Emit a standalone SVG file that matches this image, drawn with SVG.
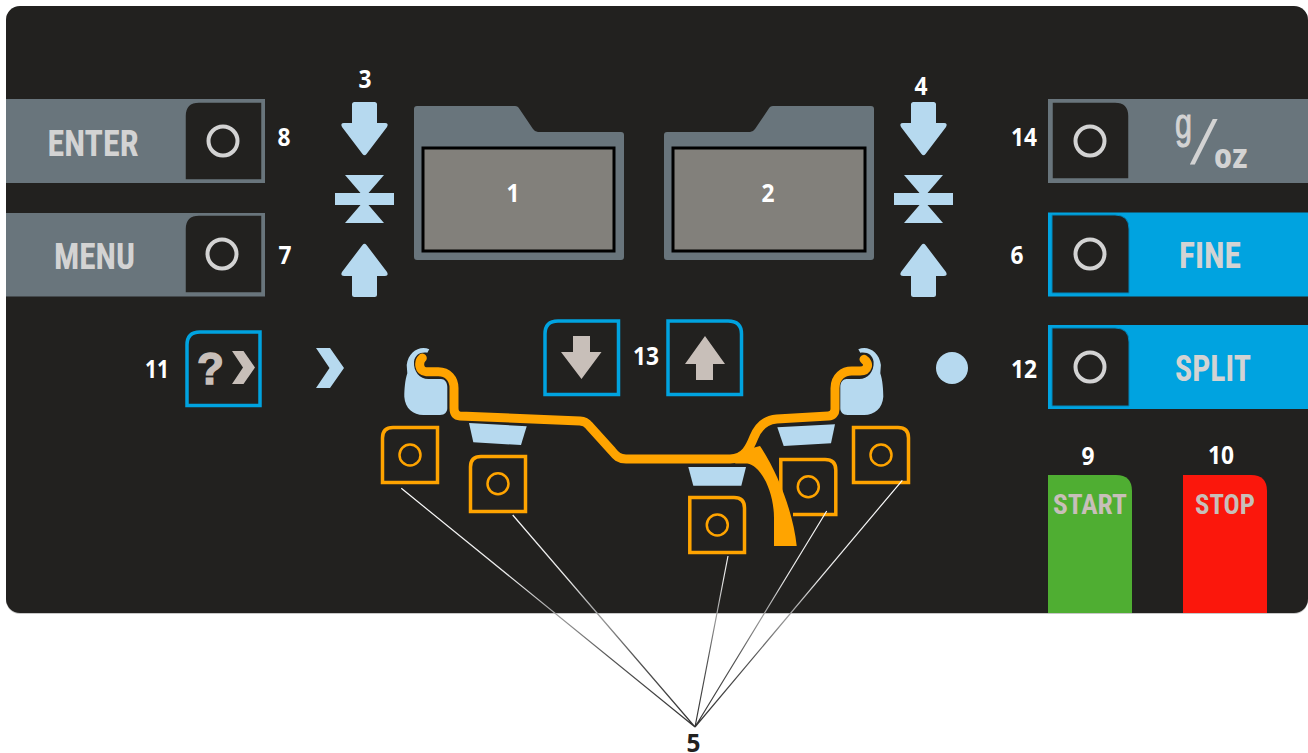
<svg xmlns="http://www.w3.org/2000/svg" width="1308" height="753" viewBox="0 0 1308 753">
<style>
.n{font-family:"Open Sans","Noto Sans",sans-serif;font-weight:700;font-size:25.500px;fill:#fff;text-anchor:middle}
.l{font-family:"Liberation Sans Narrow","Roboto Condensed","Liberation Sans",sans-serif;font-weight:700;fill:#d3d3d3;text-anchor:middle}
.kn{fill:none;stroke:#d3d3d3;stroke-width:4}
.in{fill:#22211f;stroke:#69757c;stroke-width:1.500}
.inb{fill:#22211f;stroke:#0088bd;stroke-width:1}
.ob{fill:none;stroke:#ffa400;stroke-width:3.500}
.oc{fill:none;stroke:#ffa400;stroke-width:2.500}
.bb{fill:none;stroke:#00a3e0;stroke-width:3.500}
.lb{fill:#b6d9ef}
.tp{fill:#c8bfb9}
.lead{fill:none;stroke-width:1.200;stroke:url(#lg)}
</style>
<defs>
<linearGradient id="lg" gradientUnits="userSpaceOnUse" x1="0" y1="480" x2="0" y2="727">
<stop offset="0" stop-color="#fff"/>
<stop offset="0.4" stop-color="#e8e8e8"/>
<stop offset="0.54" stop-color="#a0a0a0"/>
<stop offset="0.72" stop-color="#555"/>
<stop offset="1" stop-color="#333"/>
</linearGradient>
<path id="dn" class="lb" d="M-10,0H10Q12.500,0 12.500,2.500V21H20.500Q24.500,21 22.500,25L2,52Q0,54.500 -2,52L-22.500,25Q-24.500,21 -20.500,21H-12.500V2.500Q-12.500,0 -10,0Z"/>
<path id="bow" class="lb" d="M-19.500,0H19.500L4,18H29.500V30H4L19.500,48H-19.500L-4,30H-29.500V18H-4Z"/>
<path id="bead" class="lb" d="M429.300,349.300C420,345 408.300,351.700 406.700,365L407.300,373.300C405,380 404.300,390 404.300,396.700C405,408.300 413.300,415 423.300,415H440C445,415 447.300,411.700 447.300,408.300V386.700C447.300,381.700 444,378.300 440,379H428.300C420,379 413.300,371.700 414,361.700C415,355 420,351.700 427.300,352.700Z"/>
</defs>
<rect width="1308" height="753" fill="#fff"/>
<rect x="6" y="7" width="1302" height="607" rx="14" fill="#c8c8c8"/>
<rect id="panel" x="6" y="6" width="1302" height="607" rx="14" fill="#22211f"/>

<g id="btn-enter">
<rect x="6" y="99" width="259" height="84" fill="#69757c"/>
<path class="in" d="M185,180V116Q185,102 199,102H262V180Z"/>
<circle class="kn" cx="223" cy="141" r="14.500"/>
<text class="l" x="93" y="156" font-size="37" textLength="91" lengthAdjust="spacingAndGlyphs">ENTER</text>
<text class="n" x="284" y="146" textLength="13" lengthAdjust="spacingAndGlyphs">8</text>
</g>
<g id="btn-menu">
<rect x="6" y="213" width="259" height="83.500" fill="#69757c"/>
<path class="in" d="M185,293V229Q185,215 199,215H262V293Z"/>
<circle class="kn" cx="222" cy="254" r="14.500"/>
<text class="l" x="94.500" y="269" font-size="37" textLength="81" lengthAdjust="spacingAndGlyphs">MENU</text>
<text class="n" x="285" y="264" textLength="13" lengthAdjust="spacingAndGlyphs">7</text>
</g>
<g id="btn-goz">
<rect x="1048" y="99" width="260" height="84" fill="#69757c"/>
<path class="in" d="M1052,102H1115Q1129,102 1129,116V179H1052Z"/>
<circle class="kn" cx="1090" cy="141" r="14.500"/>
<text class="l" x="1183.500" y="138" font-size="42" textLength="17" lengthAdjust="spacingAndGlyphs" stroke="#d3d3d3" stroke-width="1" style="font-family:'Liberation Sans',sans-serif;font-weight:400">g</text>
<text class="l" transform="translate(1190 164) skewX(-13)" font-size="62" style="font-family:'Liberation Sans',sans-serif;font-weight:400;text-anchor:start">/</text>
<text class="l" x="1231" y="168" font-size="35" textLength="34" lengthAdjust="spacingAndGlyphs">oz</text>
<text class="n" x="1024" y="146" textLength="26" lengthAdjust="spacingAndGlyphs">14</text>
</g>
<g id="btn-fine">
<rect x="1048" y="212.500" width="260" height="84" fill="#00a3e0"/>
<path class="inb" d="M1052,215H1115Q1129,215 1129,229V293H1052Z"/>
<circle class="kn" cx="1090" cy="254" r="14.500"/>
<text class="l" x="1210" y="268" font-size="37" textLength="62" lengthAdjust="spacingAndGlyphs">FINE</text>
<text class="n" x="1017" y="264" textLength="13" lengthAdjust="spacingAndGlyphs">6</text>
</g>
<g id="btn-split">
<rect x="1048" y="325" width="260" height="84" fill="#00a3e0"/>
<path class="inb" d="M1052,328H1115Q1129,328 1129,342V406H1052Z"/>
<circle class="kn" cx="1090" cy="367" r="14.500"/>
<text class="l" x="1213" y="381" font-size="37" textLength="76" lengthAdjust="spacingAndGlyphs">SPLIT</text>
<text class="n" x="1024" y="378" textLength="26" lengthAdjust="spacingAndGlyphs">12</text>
</g>
<g id="btn-start">
<path d="M1048,613V475H1116Q1132,475 1132,491V613Z" fill="#4fae32"/>
<text class="l" x="1090" y="514" font-size="28" style="fill:#c8bfb9" textLength="74" lengthAdjust="spacingAndGlyphs">START</text>
<text class="n" x="1088" y="465" textLength="13" lengthAdjust="spacingAndGlyphs">9</text>
</g>
<g id="btn-stop">
<path d="M1183,613V475H1251Q1267,475 1267,491V613Z" fill="#fb170c"/>
<text class="l" x="1225" y="514" font-size="28" style="fill:#c8bfb9" textLength="60" lengthAdjust="spacingAndGlyphs">STOP</text>
<text class="n" x="1221" y="464" textLength="26" lengthAdjust="spacingAndGlyphs">10</text>
</g>

<g id="display-1">
<path d="M414,260V109Q414,106 417,106H515Q518,106 519.500,109L533,129Q535,132 538,132H621Q624,132 624,135V257Q624,260 621,260H417Q414,260 414,257Z" fill="#69757c"/>
<rect x="423" y="148" width="191" height="103" fill="#82807b" stroke="#000" stroke-width="3"/>
<text class="n" x="513" y="202" textLength="13" lengthAdjust="spacingAndGlyphs">1</text>
</g>
<g id="display-2">
<path d="M874,260V109Q874,106 871,106H773Q770,106 768.500,109L755,129Q753,132 750,132H667Q664,132 664,135V257Q664,260 667,260H871Q874,260 874,257Z" fill="#69757c"/>
<rect x="673" y="148" width="192" height="103" fill="#82807b" stroke="#000" stroke-width="3"/>
<text class="n" x="768" y="202" textLength="13" lengthAdjust="spacingAndGlyphs">2</text>
</g>

<g id="adjust-3">
<use href="#dn" x="364.500" y="102"/>
<use href="#bow" x="364.500" y="175"/>
<use href="#dn" transform="translate(364.500 297) scale(1 -1)"/>
<text class="n" x="365" y="88" textLength="13" lengthAdjust="spacingAndGlyphs">3</text>
</g>
<g id="adjust-4">
<use href="#dn" x="923.500" y="102"/>
<use href="#bow" x="923.500" y="175"/>
<use href="#dn" transform="translate(923.500 297) scale(1 -1)"/>
<text class="n" x="921" y="95" textLength="13" lengthAdjust="spacingAndGlyphs">4</text>
</g>

<g id="btn-help">
<path class="bb" d="M187,405.500V345Q187,332 200,332H260V405.500Z"/>
<text x="210.500" y="384" font-family="Liberation Sans,sans-serif" font-weight="700" font-size="44" text-anchor="middle" class="tp" stroke="#c8bfb9" stroke-width="1.500">?</text>
<path class="tp" d="M232,351H243.500L255,367.500L243.500,384H232L243,367.500Z"/>
<text class="n" x="157" y="378" textLength="24" lengthAdjust="spacingAndGlyphs">11</text>
</g>
<path id="chevron" class="lb" d="M316,348H330L344,368L330,388H316L329.500,368Z"/>
<circle id="dot" class="lb" cx="952" cy="368" r="16"/>

<g id="btn-down">
<path class="bb" d="M545,394.500V334Q545,321 558,321H618.500V394.500Z"/>
<path class="tp" d="M573,336H590V352H601.500L581.500,379L561,352H573Z"/>
</g>
<text id="label-13" class="n" x="646" y="365" textLength="26" lengthAdjust="spacingAndGlyphs">13</text>
<g id="btn-up">
<path class="bb" d="M668,394.500V321H728Q741.500,321 741.500,334V394.500Z"/>
<path class="tp" d="M696,380V364H685L705,336L725,364H713V380Z"/>
</g>

<g id="sensor-d"><path class="ob" d="M780.800,514.500V459.500H825Q835.800,459.500 835.800,470V514.500H793"/><circle class="oc" cx="808.300" cy="486.700" r="10.500"/></g>

<g id="wheel">
<use href="#bead"/>
<use href="#bead" transform="translate(1287.600 0) scale(-1 1)"/>
<path d="M469,423L526.700,426.300L521,445L473.300,442.300Z" class="lb"/>
<path d="M688.300,467H746L741.300,485.700H693.300Z" class="lb"/>
<path d="M777.300,427.300L835,424.300L831,443.300L783.700,446Z" class="lb"/>
<path d="M422.300,358C418,362 419,371.700 426,371.700H438.300C448,371.700 454,379 454,388V408C454,413 456,415.700 460,416L580,421C584,421.300 587,423 589,425.500L612,451C616,456 619,459 626,459H730C745,459 750,447 754,437C759,425 766.700,419.700 776.700,419L828.300,416C833,415.700 835,413 835,409.300V388.300C835,376.700 843.300,371 851.700,371H860C868.300,371 870,363 864,359.300" fill="none" stroke="#ffa400" stroke-width="9" stroke-linecap="round"/>
<path d="M735,463.500H747.300C760,465 774,490 774,518.300V546H796.700C793.300,513.300 778.300,473.300 760,446L745,450Z" fill="#ffa400"/>
</g>

<g id="sensor-a"><path class="ob" d="M382.500,482.500V438Q382.500,427.500 393,427.500H437.500V482.500Z"/><circle class="oc" cx="410" cy="455" r="10.500"/></g>
<g id="sensor-b"><path class="ob" d="M470.500,511.500V467Q470.500,456.500 481,456.500H525.500V511.500Z"/><circle class="oc" cx="498" cy="483.700" r="10.500"/></g>
<g id="sensor-c"><path class="ob" d="M689.800,552.500V497.500H734Q744.500,497.500 744.500,508V552.500Z"/><circle class="oc" cx="717.300" cy="525" r="10.500"/></g>
<g id="sensor-e"><path class="ob" d="M853.500,482.500V427.500H898Q908.500,427.500 908.500,438V482.500Z"/><circle class="oc" cx="881" cy="455" r="10.500"/></g>

<g id="connectors">
<path class="lead" d="M401.300,488.300L695,727M512.700,515L695,727M728,556L695,727M826.700,511L695,727M902.300,480.300L695,727"/>
</g>

<text id="label-5" class="n" x="693.500" y="752" textLength="14" lengthAdjust="spacingAndGlyphs" style="fill:#22211f">5</text>
</svg>
